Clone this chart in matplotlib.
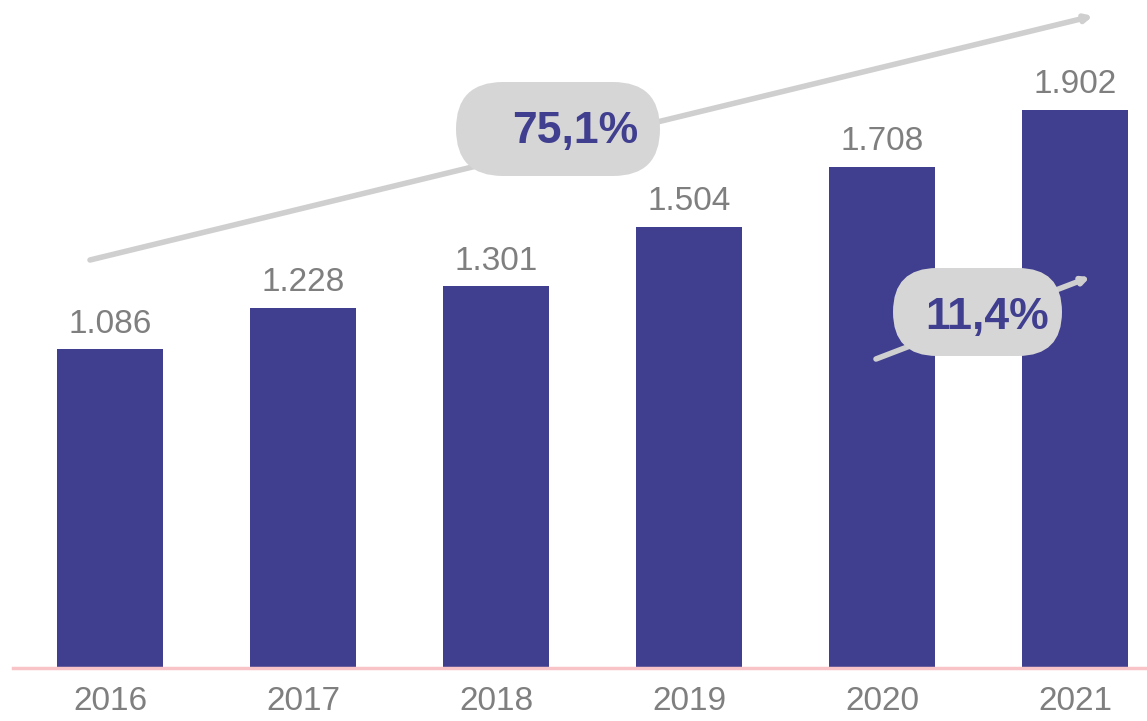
import matplotlib.pyplot as plt
from matplotlib.patches import FancyBboxPatch

years = ["2016", "2017", "2018", "2019", "2020", "2021"]
values = [1.086, 1.228, 1.301, 1.504, 1.708, 1.902]
total_growth = "75,1%"
last_growth = "11,4%"

bar_color = "#403E8F"
grey_text = "#7F7F7F"
pill_color = "#D6D6D6"
arrow_color = "#CFCFCF"

plt.rcParams["font.family"] = ["Liberation Sans", "DejaVu Sans"]

fig = plt.figure(figsize=(11.47, 7.21), dpi=100)
ax = fig.add_axes([0, 53 / 721, 1, 668 / 721])

x = list(range(len(years)))
ax.bar(x, values, width=0.554, color=bar_color, zorder=2)
ax.set_xlim(-0.570, 5.373)
ax.set_ylim(0, 2.277)

for xi, v in zip(x, values):
    ax.annotate(f"{v:.3f}", (xi, v), xytext=(0, 12), textcoords="offset points",
                ha="center", va="baseline", fontsize=24, color=grey_text)

ax.axhline(0, xmin=13 / 1147, xmax=1, color="#F8C4C8", lw=2.5, zorder=3, clip_on=False)

ax.set_xticks(x)
ax.set_xticklabels(years, fontsize=24, color=grey_text)
ax.tick_params(axis="x", length=0, pad=13)
ax.set_yticks([])
for s in ax.spines.values():
    s.set_visible(False)

# growth arrows
arrow_kw = dict(arrowstyle="-|>,head_length=0.4,head_width=0.2", color=arrow_color,
                lw=4, shrinkA=0, shrinkB=0)
ax.annotate("", xy=(1093, 705), xytext=(90, 461), xycoords="figure pixels",
            textcoords="figure pixels", arrowprops=arrow_kw, zorder=4)
ax.annotate("", xy=(1090, 444), xytext=(876, 362), xycoords="figure pixels",
            textcoords="figure pixels", arrowprops=arrow_kw, zorder=4)

# pills
for (x0, y0, w, h) in [(456, 545, 204, 94), (893, 365, 169, 88)]:
    pill = FancyBboxPatch((x0 / 100, y0 / 100), w / 100, h / 100,
                          boxstyle=f"round,pad=0,rounding_size={h / 200}",
                          transform=fig.dpi_scale_trans, facecolor=pill_color,
                          edgecolor="none", zorder=5)
    fig.add_artist(pill)

fig.text(575 / 1147, 590 / 721, total_growth, ha="center", va="center",
         fontsize=32, fontweight="bold", color=bar_color, zorder=6)
fig.text(987 / 1147, 403 / 721, last_growth, ha="center", va="center",
         fontsize=32, fontweight="bold", color=bar_color, zorder=6)

fig.savefig("out.png", dpi=100)
